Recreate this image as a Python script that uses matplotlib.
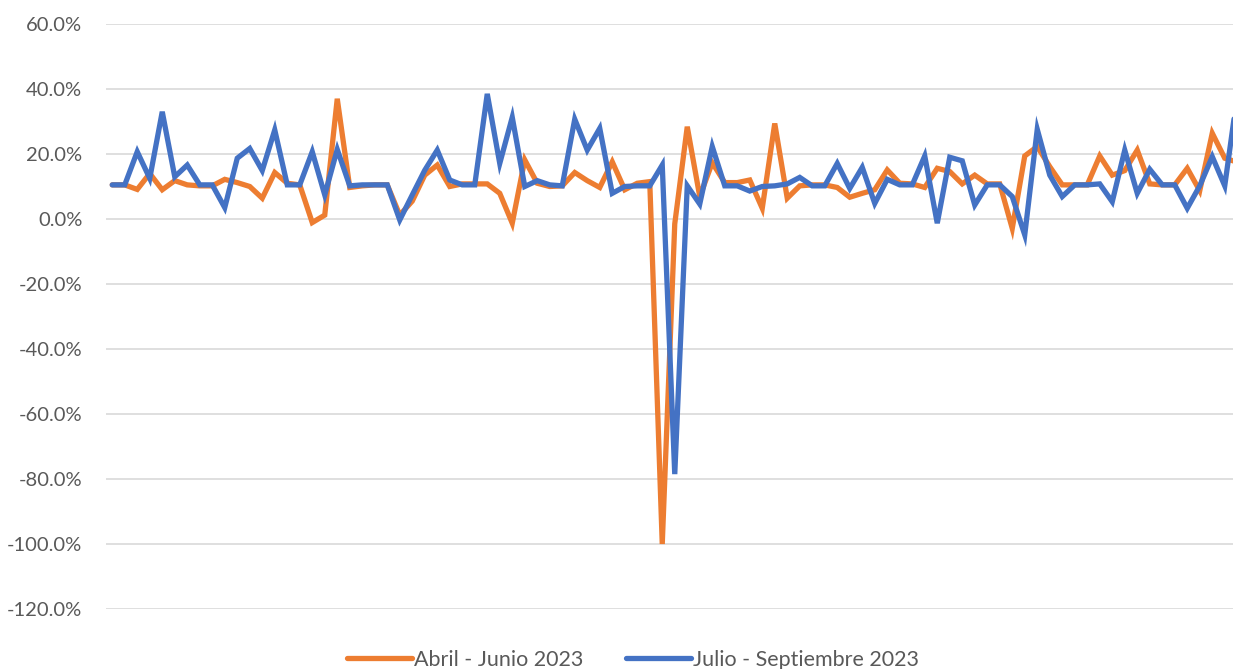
import matplotlib
matplotlib.use("Agg")
import matplotlib.pyplot as plt
from matplotlib.ticker import FuncFormatter, MultipleLocator
import numpy as np

# Variation (%) per period
abril_junio = [10.5, 10.5, 9.1, 14.0, 9.0, 11.8, 10.5, 10.2, 10.2, 12.2, 11.2, 10.0, 6.4, 14.3, 11.0,
               10.5, -1.1, 1.2, 37.0, 9.7, 10.2, 10.5, 10.5, 1.2, 5.5, 13.5, 16.6, 10.0, 10.8, 10.8,
               10.8, 7.9, -1.3, 18.2, 11.0, 10.0, 10.2, 14.3, 11.8, 9.7, 17.6, 9.0, 11.0, 11.5, -100.0,
               -1.5, 28.4, 6.9, 17.3, 11.2, 11.2, 12.0, 3.3, 29.4, 6.4, 10.2, 10.5, 10.5, 9.7, 6.7, 7.9,
               9.0, 15.1, 11.0, 10.8, 9.7, 15.6, 14.6, 10.8, 13.5, 10.8, 10.8, -2.9, 19.4, 22.3, 16.1,
               10.5, 10.5, 10.5, 19.4, 13.5, 14.9, 21.2, 10.8, 10.5, 10.5, 15.6, 8.7, 26.4, 18.7, 17.5]

julio_septiembre = [10.5, 10.5, 20.7, 12.5, 33.0, 13.0, 16.6, 10.5, 10.5, 3.5, 18.7, 21.7, 14.9, 27.4, 10.5,
                    10.5, 20.7, 7.4, 21.4, 10.2, 10.5, 10.5, 10.5, -0.3, 7.4, 15.0, 21.2, 12.0, 10.5, 10.5,
                    38.5, 17.1, 31.3, 10.0, 11.8, 10.5, 10.2, 30.7, 21.2, 27.9, 7.9, 10.0, 10.2, 10.2, 16.6,
                    -78.5, 10.2, 4.6, 22.3, 10.2, 10.2, 8.6, 10.0, 10.2, 10.8, 12.8, 10.2, 10.2, 17.1, 9.4, 15.9,
                    4.8, 12.2, 10.5, 10.5, 19.4, -1.3, 19.0, 17.9, 4.3, 10.5, 10.5, 6.9, -4.9, 27.6, 13.5,
                    6.9, 10.5, 10.5, 10.8, 5.3, 21.2, 7.9, 15.3, 10.5, 10.5, 3.3, 10.2, 19.2, 10.2, 38.0]

series_labels = ["Abril - Junio 2023", "Julio - Septiembre 2023"]
series_colors = ["#ED7D31", "#4472C4"]

W, H = 1233, 669
fig = plt.figure(figsize=(W / 100, H / 100), dpi=100)
plt.rcParams["font.family"] = ["Lato", "DejaVu Sans"]

# axes box in pixel coords of the reference
left, right, top, bottom = 106, 1233, 24, 609
ax = fig.add_axes([left / W, (H - bottom) / H, (right - left) / W, (bottom - top) / H])

x = np.arange(len(abril_junio))
for values, label, color in zip([abril_junio, julio_septiembre], series_labels, series_colors):
    ax.plot(x, values, color=color, lw=3.8, label=label, solid_joinstyle="miter",
            solid_capstyle="round")

ax.set_ylim(-120, 60)
ax.set_xlim(-0.5, 89.66)
ax.yaxis.set_major_locator(MultipleLocator(20))
ax.yaxis.set_major_formatter(FuncFormatter(lambda v, pos: "{:.1f}%".format(v)))
ax.grid(axis="y", color="#D9D9D9", lw=1.2)
ax.set_axisbelow(True)
ax.set_xticks([])
for s in ["top", "left", "right", "bottom"]:
    ax.spines[s].set_visible(False)
ax.tick_params(axis="y", length=0, pad=17, labelsize=14.5, labelcolor="#595959")

leg = fig.legend(loc="center", bbox_to_anchor=(633 / W, (H - 660) / H), ncol=2, frameon=False,
                 fontsize=15.5, handlelength=3.0, handletextpad=0.1, columnspacing=2.0)
for text in leg.get_texts():
    text.set_color("#595959")

fig.savefig("out.png", dpi=100)
